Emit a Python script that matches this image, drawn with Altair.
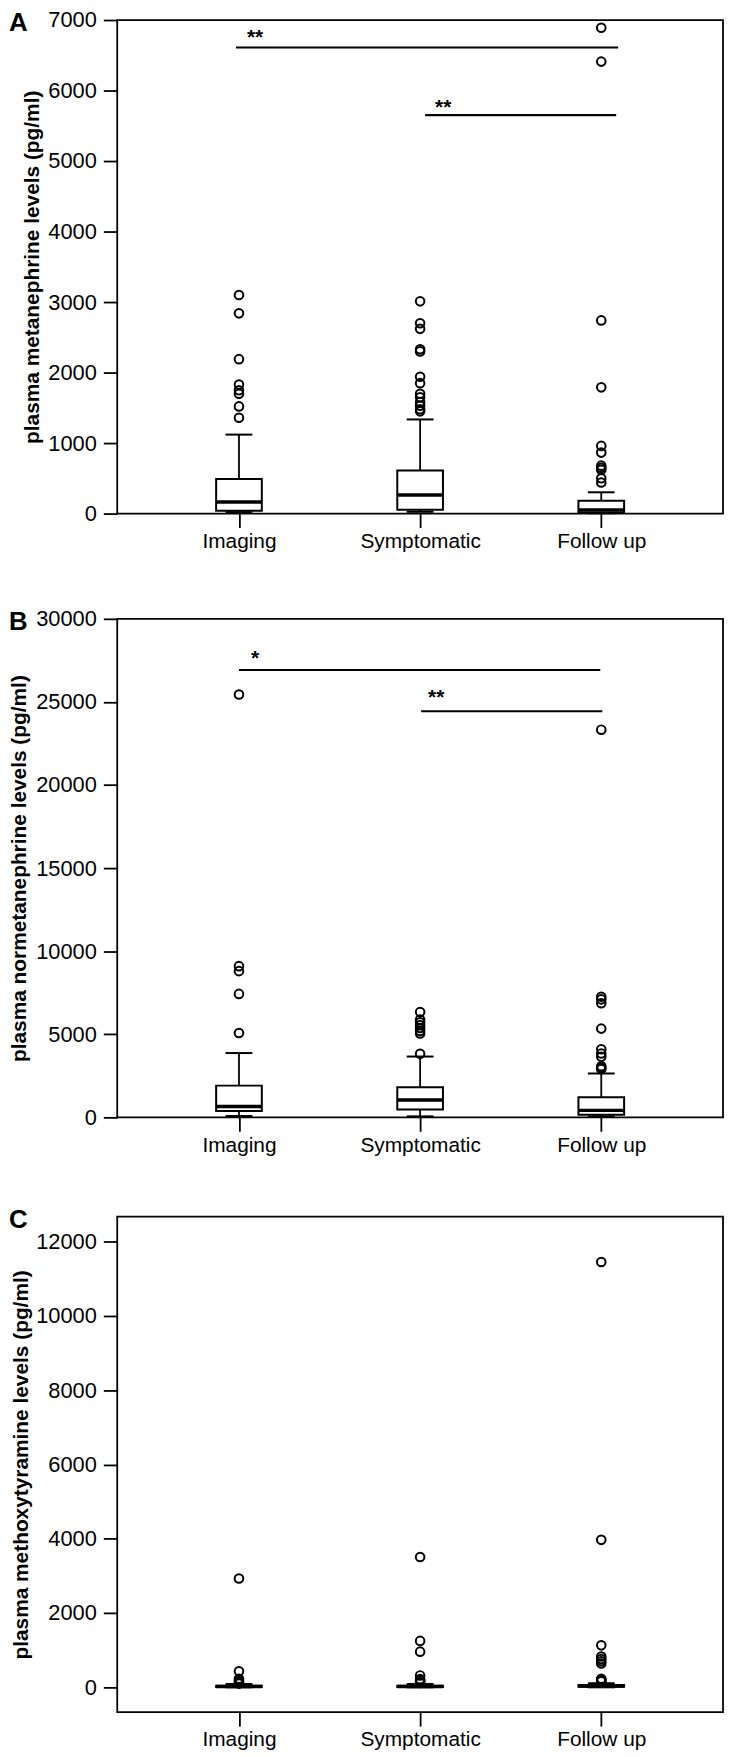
import altair as alt
import pandas as pd

categories = ["Imaging", "Symptomatic", "Follow up"]

# ---------------- Panel A: plasma metanephrine ----------------
a_q1 = [40, 55, 15]
a_median = [165, 265, 50]
a_q3 = [490, 610, 182]
a_wlo = [20, 25, 5]
a_whi = [1120, 1335, 302]
a_outliers = [
    [3100, 2840, 2190, 1830, 1750, 1700, 1520, 1360],
    [3010, 2700, 2620, 2330, 2300, 1940, 1850, 1700, 1650, 1580, 1530, 1480, 1450],
    [6890, 6410, 2740, 1790, 960, 865, 680, 650, 620, 500, 440],
]
a_sig_from = ["Imaging", "Symptomatic"]
a_sig_to = ["Follow up", "Follow up"]
a_sig_y = [6610, 5650]
a_sig_label = ["**", "**"]
a_star_y = [6825, 5840]

# ---------------- Panel B: plasma normetanephrine ----------------
b_q1 = [380, 480, 160]
b_median = [650, 1050, 420]
b_q3 = [1910, 1810, 1210]
b_wlo = [80, 60, 60]
b_whi = [3870, 3660, 2640]
b_outliers = [
    [25450, 9100, 8800, 7430, 5080],
    [6340, 5880, 5720, 5560, 5380, 5200, 5050, 3830],
    [23330, 7260, 7100, 6870, 5340, 4100, 3840, 3650, 3080, 2980, 2900],
]
b_sig_from = ["Imaging", "Symptomatic"]
b_sig_to = ["Follow up", "Follow up"]
b_sig_y = [26920, 24440]
b_sig_label = ["*", "**"]
b_star_y = [27930, 25570]

# ---------------- Panel C: plasma methoxytyramine ----------------
c_q1 = [10, 10, 15]
c_median = [25, 25, 35]
c_q3 = [45, 45, 60]
c_wlo = [0, 0, 0]
c_whi = [90, 90, 110]
c_outliers = [
    [2930, 430, 230, 180, 150, 120, 100],
    [3510, 1250, 960, 320, 220, 180, 150, 120],
    [11450, 3970, 1130, 830, 760, 700, 640, 230, 200, 180, 160],
]

FONT = "Liberation Sans, Arial, sans-serif"


def panel(letter, title, q1, med, q3, wlo, whi, outliers, domain, ticks,
          height, title_x, sig=None):
    box = pd.DataFrame({"category": categories, "q1": q1, "median": med,
                        "q3": q3, "wlo": wlo, "whi": whi})
    pts = pd.DataFrame([{"category": c, "value": v}
                        for c, vals in zip(categories, outliers) for v in vals])

    x_axis = alt.Axis(labelAngle=0, tickSize=14, tickWidth=1.8, tickColor="black",
                      domain=False, grid=False, labelFontSize=21, labelPadding=3,
                      labelColor="black", labelFont=FONT)
    y_axis = alt.Axis(values=ticks, format="d", tickSize=14, tickWidth=1.8,
                      tickColor="black", domain=False, grid=False,
                      labelFontSize=22, labelPadding=7, labelColor="black",
                      labelFont=FONT, titleFontSize=21, titleFontWeight="bold",
                      titleColor="black", titleFont=FONT, titleAngle=270,
                      titleAlign="center", titleBaseline="middle",
                      titleX=title_x, titleY=height / 2)
    x_scale = alt.Scale(type="point", domain=categories, padding=0.672)
    y_scale = alt.Scale(domain=domain, nice=False, zero=False)

    def X(field):
        return alt.X(f"{field}:N", scale=x_scale, axis=x_axis, title=None)

    def Y(field):
        return alt.Y(f"{field}:Q", scale=y_scale, axis=y_axis, title=title)

    base = alt.Chart(box)
    whisk = base.mark_rule(color="black", strokeWidth=1.8, opacity=1).encode(
        x=X("category"), y=Y("wlo"), y2="whi")
    caps_lo = base.mark_tick(color="black", size=27, thickness=2,
                             opacity=1).encode(
        x=X("category"), y=Y("wlo"))
    caps_hi = base.mark_tick(color="black", size=27, thickness=2,
                             opacity=1).encode(
        x=X("category"), y=Y("whi"))
    boxes = base.mark_bar(size=46, fill="white", stroke="black",
                          strokeWidth=2, opacity=1).encode(
        x=X("category"), y=Y("q1"), y2="q3")
    meds = base.mark_tick(color="black", size=46, thickness=3.5,
                          opacity=1).encode(
        x=X("category"), y=Y("median"))
    out = alt.Chart(pts).mark_point(shape="circle", filled=False, size=75,
                                    color="black", strokeWidth=2,
                                    opacity=1).encode(
        x=X("category"), y=Y("value"))
    lab = alt.Chart(pd.DataFrame({"letter": [letter]})).mark_text(
        font=FONT, fontSize=26, fontWeight="bold", align="left",
        baseline="alphabetic", color="black").encode(
        x=alt.value(-109), y=alt.value(11), text="letter:N")

    layers = [whisk, boxes, caps_lo, caps_hi, meds, out]
    if sig is not None:
        s_from, s_to, s_y, s_lab, s_star, offsets, dxs = sig
        for i in range(len(s_from)):
            row = pd.DataFrame({"from": [s_from[i]], "to": [s_to[i]],
                                "y": [s_y[i]], "star_y": [s_star[i]],
                                "label": [s_lab[i]]})
            layers.append(alt.Chart(row).mark_rule(
                color="black", strokeWidth=2.2, opacity=1,
                xOffset=offsets[i][0], x2Offset=offsets[i][1]).encode(
                x=X("from"), x2="to", y=Y("y")))
            layers.append(alt.Chart(row).mark_text(
                font=FONT, fontSize=21, fontWeight="bold", align="left",
                baseline="middle", dx=dxs[i], dy=6, color="black").encode(
                x=X("from"), y=Y("star_y"), text="label:N"))
    layers.append(lab)
    return alt.layer(*layers).properties(width=610, height=height)


pA = panel("A", "plasma metanephrine levels (pg/ml)", a_q1, a_median, a_q3,
           a_wlo, a_whi, a_outliers, [0, 7000], list(range(0, 7001, 1000)),
           497, -85,
           sig=(a_sig_from, a_sig_to, a_sig_y, a_sig_label, a_star_y,
                [(-3, 17), (5, 15)], [8, 15]))
pB = panel("B", "plasma normetanephrine levels (pg/ml)", b_q1, b_median, b_q3,
           b_wlo, b_whi, b_outliers, [0, 30000], list(range(0, 30001, 5000)),
           502, -98,
           sig=(b_sig_from, b_sig_to, b_sig_y, b_sig_label, b_star_y,
                [(0, -1), (1, 1)], [12, 8]))
pC = panel("C", "plasma methoxytyramine levels (pg/ml)", c_q1, c_median, c_q3,
           c_wlo, c_whi, c_outliers, [-670, 12670], list(range(0, 12001, 2000)),
           499, -96)

chart = alt.vconcat(
    pA, alt.vconcat(pB, pC, spacing=50), spacing=55
).properties(
    padding={"left": 0, "top": -6, "right": 0, "bottom": 0}
).configure(font=FONT).configure_view(stroke="black", strokeWidth=1.8)

chart.save("out.html", embed_options={"renderer": "svg", "actions": False})
